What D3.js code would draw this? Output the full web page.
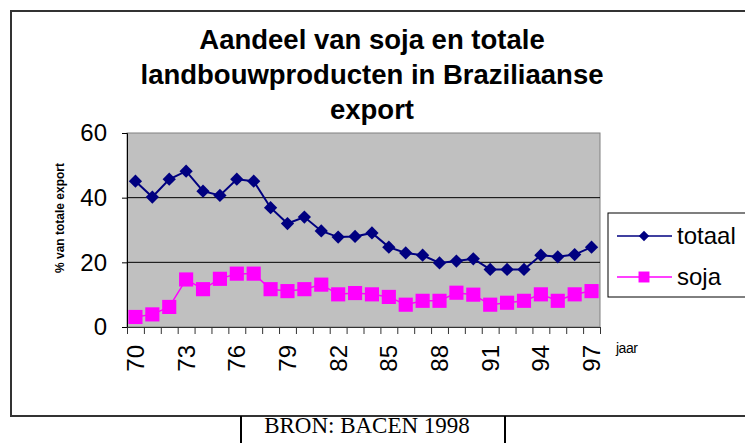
<!DOCTYPE html>
<html>
<head>
<meta charset="utf-8">
<script src="https://cdn.jsdelivr.net/npm/d3@7"></script>
<style>
  body { margin: 0; background: #fff; }
  svg { display: block; font-family: "Liberation Sans", Arial, sans-serif; }
</style>
</head>
<body>
<svg id="chart" width="745" height="443"></svg>
<script>
// data
const years = d3.range(70, 98);
const totaal = [45.1, 40.2, 45.7, 48.2, 42.0, 40.7, 45.7, 45.1, 36.9, 32.0, 34.0, 29.7, 27.8, 28.0,
  29.1, 24.7, 22.9, 22.2, 19.8, 20.4, 21.1, 17.8, 17.8, 17.8, 22.2, 21.7, 22.4, 24.7];
const soja = [3.1, 3.9, 6.2, 14.7, 11.7, 14.9, 16.5, 16.5, 11.7, 11.1, 11.7, 13.1, 10.1, 10.5,
  10.1, 9.3, 6.9, 8.1, 8.1, 10.6, 10.0, 6.9, 7.5, 8.1, 10.1, 8.1, 10.1, 11.1];
const yTicks = [0, 20, 40, 60];
const labelYears = years.filter((d, i) => i % 3 === 0);
const titleLines = ['Aandeel van soja en totale', 'landbouwproducten in Braziliaanse', 'export'];

const svg = d3.select('#chart');

// outer frame + source box
svg.append('rect').attr('x', 11).attr('y', 11).attr('width', 760).attr('height', 405)
  .attr('fill', 'none').attr('stroke', '#333').attr('stroke-width', 2);
svg.append('line').attr('x1', 241).attr('x2', 241).attr('y1', 416).attr('y2', 443)
  .attr('stroke', '#000').attr('stroke-width', 2);
svg.append('line').attr('x1', 505).attr('x2', 505).attr('y1', 416).attr('y2', 443)
  .attr('stroke', '#000').attr('stroke-width', 2);
svg.append('text').attr('x', 367).attr('y', 433).attr('text-anchor', 'middle')
  .style('font-family', '"Liberation Serif", "Times New Roman", serif').style('font-size', '23px')
  .text('BRON: BACEN 1998');

// title
svg.append('g').selectAll('text').data(titleLines).join('text')
  .attr('x', 372).attr('y', (d, i) => 49 + i * 35)
  .attr('text-anchor', 'middle')
  .style('font-size', '27.5px').style('font-weight', 'bold')
  .text(d => d);

const plotL = 127, plotR = 600, plotT = 133, plotB = 327;

const x = d3.scaleBand().domain(years).range([plotL, plotR]);
const xEdges = d3.scaleLinear().domain([0, years.length]).range([plotL, plotR]);
const y = d3.scaleLinear().domain([0, 60]).range([plotB, plotT]);
const cx = d => x(d) + x.bandwidth() / 2;

// plot area
svg.append('rect').attr('x', plotL).attr('y', plotT).attr('width', plotR - plotL).attr('height', plotB - plotT)
  .attr('fill', '#c0c0c0').attr('stroke', '#808080').attr('stroke-width', 1);

svg.append('g').selectAll('line').data(yTicks.filter(d => d > 0 && d < 60)).join('line')
  .attr('x1', plotL).attr('x2', plotR).attr('y1', d => y(d)).attr('y2', d => y(d))
  .attr('stroke', '#000').attr('stroke-width', 1);

// y axis
const yAxis = svg.append('g').attr('transform', `translate(${plotL},0)`)
  .call(d3.axisLeft(y).tickValues(yTicks).tickSize(5).tickPadding(15));
yAxis.select('.domain').attr('stroke', '#000');
yAxis.selectAll('text').style('font-size', '24px').attr('fill', '#000').style('font-family', '"Liberation Sans", Arial, sans-serif');

// x axis: tick marks on category edges
const xTickAxis = svg.append('g').attr('transform', `translate(0,${plotB})`)
  .call(d3.axisBottom(xEdges).tickValues(d3.range(years.length + 1)).tickSize(7).tickFormat(''));
xTickAxis.select('.domain').attr('stroke', '#333');
xTickAxis.selectAll('.tick line').attr('stroke', '#333');

const xLabels = svg.append('g').attr('transform', `translate(0,${plotB})`)
  .call(d3.axisBottom(x).tickValues(labelYears).tickSize(0));
xLabels.select('.domain').remove();
xLabels.selectAll('text')
  .attr('x', 0).attr('y', 0).attr('dy', '0.35em')
  .attr('transform', 'translate(0,18) rotate(-90)')
  .attr('text-anchor', 'end')
  .style('font-size', '24px').attr('fill', '#000').style('font-family', '"Liberation Sans", Arial, sans-serif');

svg.append('text').attr('x', 616).attr('y', 353).style('font-size', '14px').style('letter-spacing', '-0.5px').text('jaar');

svg.append('text').attr('transform', 'translate(64,218) rotate(-90)').attr('text-anchor', 'middle')
  .style('font-size', '12px').style('font-weight', 'bold').text('% van totale export');

// series
const series = [
  { name: 'totaal', values: totaal, color: '#000080', width: 2, sym: 'diamond' },
  { name: 'soja', values: soja, color: '#ff00ff', width: 1.5, sym: 'square' }
];
const marker = (s, big) => s.sym === 'diamond'
  ? d3.symbol().type(d3.symbolSquare).size(big ? 88 : 55)()
  : d3.symbol().type(d3.symbolSquare).size(big ? 200 : 120)();
const rot = s => s.sym === 'diamond' ? ' rotate(45)' : '';

series.forEach(s => {
  const line = d3.line().x((d, i) => cx(years[i])).y(d => y(d));
  svg.append('path').datum(s.values).attr('d', line)
    .attr('fill', 'none').attr('stroke', s.color).attr('stroke-width', s.width);
  svg.append('g').selectAll('path').data(s.values).join('path')
    .attr('d', marker(s, true))
    .attr('transform', (d, i) => `translate(${cx(years[i])},${y(d)})${rot(s)}`)
    .attr('fill', s.color);
});

// legend
svg.append('rect').attr('x', 608).attr('y', 213).attr('width', 160).attr('height', 84)
  .attr('fill', '#fff').attr('stroke', '#000').attr('stroke-width', 1);
const leg = svg.append('g').selectAll('g').data(series).join('g')
  .attr('transform', (d, i) => `translate(0,${236 + i * 41})`);
leg.append('line').attr('x1', 617).attr('x2', 672).attr('y1', 0).attr('y2', 0)
  .attr('stroke', d => d.color).attr('stroke-width', 1.5);
leg.append('path').attr('d', d => marker(d, false))
  .attr('transform', d => `translate(644,0)${rot(d)}`).attr('fill', d => d.color);
leg.append('text').attr('x', 677).attr('y', 0).attr('dy', '0.35em')
  .style('font-size', '24px').text(d => d.name);
</script>
</body>
</html>
